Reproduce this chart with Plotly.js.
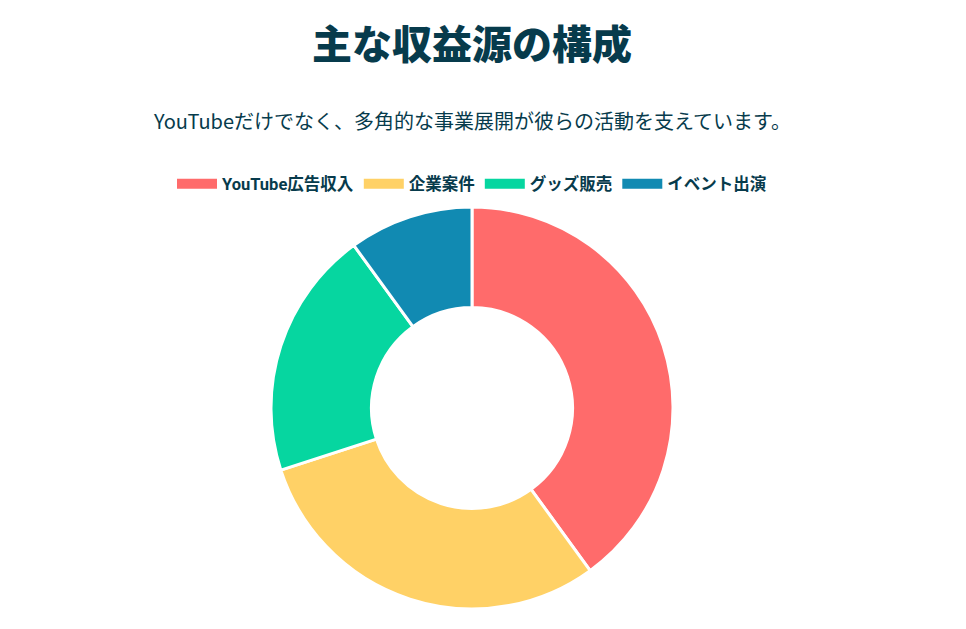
<!DOCTYPE html>
<html>
<head>
<meta charset="utf-8">
<script src="https://cdn.plot.ly/plotly-3.0.1.min.js"></script>
<style>
  html, body { margin: 0; padding: 0; background: #ffffff; }
  #chart { width: 966px; height: 629px; }
</style>
</head>
<body>
<div id="chart"></div>
<script>
// Revenue sources (share in %).
const categories = ['YouTube広告収入', '企業案件', 'グッズ販売', 'イベント出演'];
const shares = [40, 30, 20, 10];
const sliceColors = ['#FF6B6B', '#FFD166', '#06D6A0', '#118AB2'];

const titleText = '主な収益源の構成';
const subtitleText = 'YouTubeだけでなく、多角的な事業展開が彼らの活動を支えています。';

const ink = '#073B4C';
const jpFont = '"Noto Sans CJK JP", "Noto Sans", sans-serif';
const legendFont = 'Roboto, "Noto Sans CJK JP", sans-serif';

const donut = {
    type: 'pie',
    labels: categories,
    values: shares,
    hole: 0.5,
    sort: false,
    direction: 'clockwise',
    rotation: 0,
    textinfo: 'none',
    hoverinfo: 'label+percent',
    showlegend: false,
    marker: { colors: sliceColors, line: { color: '#ffffff', width: 3 } },
};

// The legend in the original uses wide flat swatches, so each category gets an
// empty line trace whose thick legend stroke stands in for the swatch.
const swatches = categories.map((name, i) => ({
    type: 'scatter',
    mode: 'lines',
    x: [null],
    y: [null],
    name,
    line: { color: sliceColors[i], width: 12 },
    hoverinfo: 'skip',
}));

const layout = {
    width: 966,
    height: 629,
    paper_bgcolor: '#ffffff',
    plot_bgcolor: '#ffffff',
    margin: { l: 0, r: 22, t: 207, b: 20 },
    font: { family: jpFont, color: ink },
    title: {
        text: titleText,
        font: { family: jpFont, size: 40, color: ink, weight: 900 },
        x: 0.4886,
        xanchor: 'center',
        y: 0.928,
        yanchor: 'middle',
    },
    annotations: [{
        text: subtitleText,
        xref: 'paper', yref: 'paper',
        x: 0.5, y: 1, yshift: 87,
        xanchor: 'center', yanchor: 'middle',
        showarrow: false,
        font: { family: jpFont, size: 20, color: ink },
    }],
    showlegend: true,
    legend: {
        orientation: 'h',
        x: 0.5,
        xanchor: 'center',
        y: 1.057,
        yanchor: 'middle',
        yref: 'paper',
        itemwidth: 40,
        font: { family: legendFont, size: 16.5, color: ink, weight: 'bold' },
        itemclick: false,
        itemdoubleclick: false,
        bgcolor: 'rgba(0,0,0,0)',
    },
    xaxis: { visible: false, fixedrange: true },
    yaxis: { visible: false, fixedrange: true },
};

Plotly.newPlot('chart', [donut, ...swatches], layout, { displayModeBar: false, staticPlot: true });
</script>
</body>
</html>
